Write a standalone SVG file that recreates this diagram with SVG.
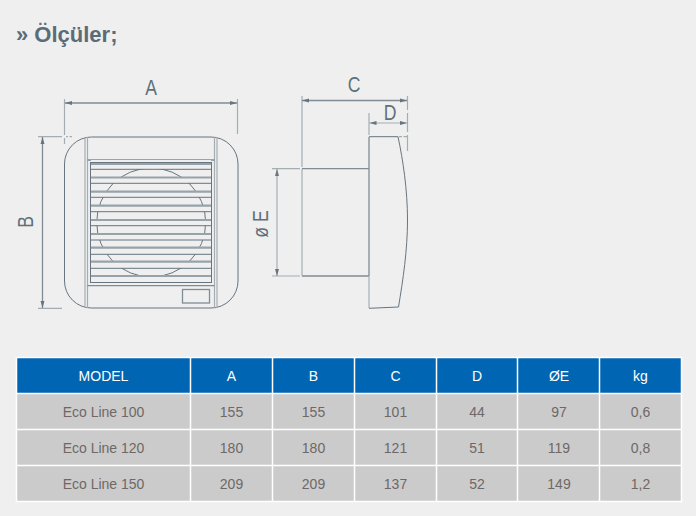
<svg xmlns="http://www.w3.org/2000/svg" width="696" height="516" viewBox="0 0 696 516">
<style>
.ln{fill:none;stroke:#66757f;stroke-width:1}
.lt{fill:none;stroke:#a4adb2;stroke-width:1.2}
.lm{fill:none;stroke:#7f8c94;stroke-width:1.3}
.th{fill:none;stroke:#97a2a9;stroke-width:2.2}
.blade{fill:#efefef;stroke:none}
.dim{font:22px "Liberation Sans",Arial,sans-serif;fill:#5f6f7b;text-anchor:middle}
.hd{fill:#0066b3}
.cl{fill:#cccbcb}
.ht{font:14px "Liberation Sans",Arial,sans-serif;fill:#fff;text-anchor:middle}
.ct{font:14px "Liberation Sans",Arial,sans-serif;fill:#6e6866;text-anchor:middle}
.sep{stroke:#fff;stroke-width:1.5;fill:none}
</style>
<defs>
<marker id="ah" markerUnits="userSpaceOnUse" markerWidth="8" markerHeight="5" refX="7" refY="2.500" orient="auto-start-reverse"><path d="M0,0.500 L7,2.500 L0,4.500 Z" fill="#66757f"/></marker>
</defs>
<rect width="696" height="516" fill="#efefef"/>
<text x="16" y="42" font-family="'Liberation Sans',Arial,sans-serif" font-size="22" font-weight="bold" fill="#5b6b78">» Ölçüler;</text>

<g id="connectors">
<path class="lt" d="M64.500 99V135M64.500 138V144M237.500 99V134M302 96V167M369 113V135M407.500 96V110M407.500 113V132M407.500 135V151M38 136.700H62M66 136.700H68M69.500 136.700H72M38 308.300H62M272 168.700H300M272 276H300M399 136.700H402M403.500 136.700H407"/>
<path class="lm" d="M65 103H237" marker-start="url(#ah)" marker-end="url(#ah)"/>
<path class="lm" d="M42.500 137V308" marker-start="url(#ah)" marker-end="url(#ah)"/>
<path class="lm" d="M302 100.500H407" marker-start="url(#ah)" marker-end="url(#ah)"/>
<path class="lt" d="M369.500 123H407" marker-start="url(#ah)" marker-end="url(#ah)"/>
<path class="lt" d="M277 169V276" marker-start="url(#ah)" marker-end="url(#ah)"/>
</g>

<g id="label-A"><text class="dim" transform="translate(151 95) scale(.8 1)">A</text></g>
<g id="label-B"><text class="dim" transform="translate(33 222) rotate(-90) scale(.8 1)">B</text></g>
<g id="label-C"><text class="dim" transform="translate(354 92) scale(.8 1)">C</text></g>
<g id="label-D"><text class="dim" transform="translate(390 120) scale(.8 1)">D</text></g>
<g id="label-E"><text class="dim" transform="translate(268 224) rotate(-90) scale(.8 1)">ø E</text></g>

<g id="fan-front">
<rect class="ln" x="64.500" y="137" width="173.500" height="171" rx="27" ry="27"/>
<path class="lt" d="M85 137V308M87.500 137V308M214.500 137V308M217 137V308"/>
<path class="lm" d="M87.500 160H214.500M87.500 285.700H214.500"/>
<circle class="ln" cx="151.200" cy="222.500" r="54.500"/>
<g class="blade">
<rect x="91" y="160" width="120" height="9"/>
<rect x="91" y="177" width="120" height="6"/>
<rect x="91" y="191" width="120" height="6"/>
<rect x="91" y="205" width="120" height="6.500"/>
<rect x="91" y="220" width="120" height="5.500"/>
<rect x="91" y="234" width="120" height="6"/>
<rect x="91" y="248" width="120" height="6"/>
<rect x="91" y="262" width="120" height="6"/>
<rect x="91" y="276" width="120" height="6"/>
</g>
<rect class="ln" x="90.500" y="162.500" width="121" height="120"/>
<path class="th" d="M91 164H211M91 177.500H211M91 191.700H211M91 205.700H211M91 220H211M91 234H211M91 247.700H211M91 261.700H211M91 276H211"/>
<path class="ln" d="M91 169.300H211M91 183.300H211M91 197.300H211M91 211.700H211M91 225.700H211M91 240H211M91 254.300H211M91 268.300H211"/>
<rect class="lm" x="182.500" y="289.500" width="27" height="13.500"/>
</g>

<g id="fan-side">
<path class="lm" d="M302 168.700H369M302 276H369"/>
<path class="lt" d="M302 169V276"/>
<path class="lm" d="M369 137V276"/>
<path class="lt" d="M369 276V308"/>
<path class="ln" d="M369 136.700H398C403 160 407.500 190 407.500 220C407.500 250 403 280 398.500 307L369 308.300"/>
</g>

<g id="table">
<rect class="hd" x="17" y="358" width="664" height="36"/>
<rect class="cl" x="17" y="394" width="664" height="108"/>
<path class="sep" d="M16.500 357.500H681.500V501.500H16.500ZM16.500 393.500H681.500M16.500 429.500H681.500M16.500 465.500H681.500M190.500 357.500V501.500M272.500 357.500V501.500M354.500 357.500V501.500M436.500 357.500V501.500M517.500 357.500V501.500M599.500 357.500V501.500"/>
<g class="ht">
<text x="103.500" y="381">MODEL</text><text x="231.500" y="381">A</text><text x="313.500" y="381">B</text><text x="395.500" y="381">C</text><text x="477" y="381">D</text><text x="559" y="381">ØE</text><text x="640.500" y="381">kg</text>
</g>
<g class="ct">
<text x="103.500" y="417">Eco Line 100</text><text x="231.500" y="417">155</text><text x="313.500" y="417">155</text><text x="395.500" y="417">101</text><text x="477" y="417">44</text><text x="559" y="417">97</text><text x="640.500" y="417">0,6</text>
<text x="103.500" y="453">Eco Line 120</text><text x="231.500" y="453">180</text><text x="313.500" y="453">180</text><text x="395.500" y="453">121</text><text x="477" y="453">51</text><text x="559" y="453">119</text><text x="640.500" y="453">0,8</text>
<text x="103.500" y="489">Eco Line 150</text><text x="231.500" y="489">209</text><text x="313.500" y="489">209</text><text x="395.500" y="489">137</text><text x="477" y="489">52</text><text x="559" y="489">149</text><text x="640.500" y="489">1,2</text>
</g>
</g>
</svg>
